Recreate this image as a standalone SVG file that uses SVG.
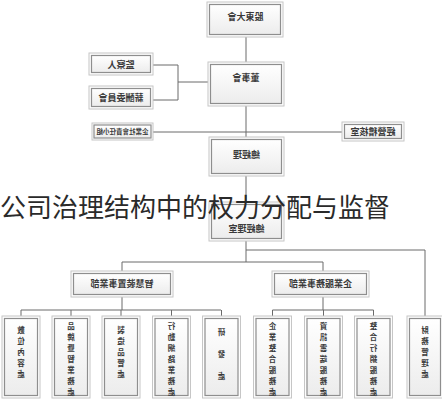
<svg xmlns="http://www.w3.org/2000/svg" width="442" height="400" viewBox="0 0 442 400">
<defs>
<linearGradient id="g" x1="0" y1="0" x2="0" y2="1">
<stop offset="0" stop-color="#ffffff"/>
<stop offset="1" stop-color="#ececec"/>
</linearGradient>
<style>
.bo{fill:#fdfdfd;stroke:#c6c6c6;stroke-width:1}
.bi{fill:url(#g);stroke:#8e8e8e;stroke-width:1.2}
.lbl{font-family:"Noto Sans CJK TC","Noto Sans CJK SC",sans-serif;font-size:9px;font-weight:bold;fill:#3a3a3a;text-anchor:middle}
.sm{font-size:6.5px}
.vt{font-size:7.5px}
.conn{stroke:#6a6a6a;stroke-width:1;fill:none}
.ov{font-family:"Noto Sans CJK SC",sans-serif;font-size:26px;fill:#2a2a2a}
</style>
</defs>
<rect width="442" height="400" fill="#ffffff"/>
<g id="connectors">
<path class="conn" d="M246 36V63M246 105V138M246 175V203M246 240V262"/>
<path class="conn" d="M152 65H178V100H152M178 82H209"/>
<path class="conn" d="M152 132H343"/>
<path class="conn" d="M122 262H323M122 262V272M323 262V272"/>
<path class="conn" d="M246 250H425V316"/>
<path class="conn" d="M122 296V310M21 310H221M21 310V316M71 310V316M121 310V316M171.5 310V316M221.5 310V316"/>
<path class="conn" d="M323 296V310M272.5 310H373.5M272.5 310V316M323.5 310V316M373.5 310V316"/>
</g>
<g id="n-gudong"><rect class="bo" x="207" y="2" width="76" height="35"/><rect class="bi" x="209.5" y="4.5" width="71" height="30"/><text class="lbl" transform="translate(245.5,20) scale(-1,1)">股東大會</text></g>
<g id="n-jiancha"><rect class="bo" x="89" y="53" width="64" height="22"/><rect class="bi" x="91.5" y="55.5" width="59" height="17"/><text class="lbl" transform="translate(121,67.5) scale(-1,1)">監察人</text></g>
<g id="n-xinchou"><rect class="bo" x="89" y="86" width="64" height="23"/><rect class="bi" x="91.5" y="88.5" width="59" height="18"/><text class="lbl" transform="translate(121,100.5) scale(-1,1)">薪酬委員會</text></g>
<g id="n-dongshi"><rect class="bo" x="208" y="62" width="76" height="44"/><rect class="bi" x="210.5" y="64.5" width="71" height="39"/><text class="lbl" transform="translate(246,80.5) scale(-1,1)">董事會</text></g>
<g id="n-csr"><rect class="bo" x="92" y="123" width="61" height="17"/><rect class="bi" x="94" y="125" width="57" height="13"/><text class="lbl sm" transform="translate(122.5,134) scale(-1,1)">企業社會責任小組</text></g>
<g id="n-jihe"><rect class="bo" x="342" y="122" width="62" height="19"/><rect class="bi" x="344.5" y="124.5" width="57" height="14"/><text class="lbl" transform="translate(373,134.5) scale(-1,1)">經營稽核室</text></g>
<g id="n-zongjingli"><rect class="bo" x="209" y="137" width="75" height="39"/><rect class="bi" x="211.5" y="139.5" width="70" height="34"/><text class="lbl" transform="translate(246.5,158) scale(-1,1)">總經理</text></g>
<g id="n-zongjinglishi"><rect class="bo" x="209" y="202" width="75" height="39"/><rect class="bi" x="211.5" y="204.5" width="70" height="34"/><text class="lbl" transform="translate(246.5,232) scale(-1,1)">總經理室</text></g>
<g id="n-zhihui"><rect class="bo" x="71" y="271" width="102" height="26"/><rect class="bi" x="73.5" y="273.5" width="97" height="21"/><text class="lbl" transform="translate(122,287) scale(-1,1)">智慧裝置事業部</text></g>
<g id="n-qiye"><rect class="bo" x="272" y="271" width="97" height="26"/><rect class="bi" x="274.5" y="273.5" width="92" height="21"/><text class="lbl" transform="translate(320.5,287) scale(-1,1)">企業服務事業部</text></g>
<g id="n-b1"><rect class="bo" x="2" y="316" width="38" height="82"/><rect class="bi" x="4.5" y="318.5" width="33" height="77"/><text class="lbl vt" transform="translate(21,0) scale(-1,1)"><tspan x="0" y="333">數</tspan><tspan x="0" y="344">位</tspan><tspan x="0" y="355">內</tspan><tspan x="0" y="366">容</tspan><tspan x="0" y="377">處</tspan></text></g>
<g id="n-b2"><rect class="bo" x="52" y="316" width="38" height="82"/><rect class="bi" x="54.5" y="318.5" width="33" height="77"/><text class="lbl vt" transform="translate(71,0) scale(-1,1)"><tspan x="0" y="329">品</tspan><tspan x="0" y="340">牌</tspan><tspan x="0" y="351">暨</tspan><tspan x="0" y="362">智</tspan><tspan x="0" y="373">業</tspan><tspan x="0" y="384">務</tspan><tspan x="0" y="395">處</tspan></text></g>
<g id="n-b3"><rect class="bo" x="102" y="316" width="38" height="82"/><rect class="bi" x="104.5" y="318.5" width="33" height="77"/><text class="lbl vt" transform="translate(121,0) scale(-1,1)"><tspan x="0" y="333">製</tspan><tspan x="0" y="344">造</tspan><tspan x="0" y="355">品</tspan><tspan x="0" y="366">管</tspan><tspan x="0" y="377">處</tspan></text></g>
<g id="n-b4"><rect class="bo" x="152.5" y="316" width="38" height="82"/><rect class="bi" x="155" y="318.5" width="33" height="77"/><text class="lbl vt" transform="translate(171.5,0) scale(-1,1)"><tspan x="0" y="329">行</tspan><tspan x="0" y="340">動</tspan><tspan x="0" y="351">網</tspan><tspan x="0" y="362">路</tspan><tspan x="0" y="373">業</tspan><tspan x="0" y="384">務</tspan><tspan x="0" y="395">處</tspan></text></g>
<g id="n-b5"><rect class="bo" x="202.5" y="316" width="38" height="82"/><rect class="bi" x="205" y="318.5" width="33" height="77"/><text class="lbl vt" transform="translate(221.5,0) scale(-1,1)"><tspan x="0" y="335">研</tspan><tspan x="0" y="357">發</tspan><tspan x="0" y="379">處</tspan></text></g>
<g id="n-b6"><rect class="bo" x="253.5" y="316" width="38" height="82"/><rect class="bi" x="256" y="318.5" width="33" height="77"/><text class="lbl vt" transform="translate(272.5,0) scale(-1,1)"><tspan x="0" y="329">企</tspan><tspan x="0" y="340">業</tspan><tspan x="0" y="351">整</tspan><tspan x="0" y="362">合</tspan><tspan x="0" y="373">服</tspan><tspan x="0" y="384">務</tspan><tspan x="0" y="395">處</tspan></text></g>
<g id="n-b7"><rect class="bo" x="304.5" y="316" width="38" height="82"/><rect class="bi" x="307" y="318.5" width="33" height="77"/><text class="lbl vt" transform="translate(323.5,0) scale(-1,1)"><tspan x="0" y="329">資</tspan><tspan x="0" y="340">訊</tspan><tspan x="0" y="351">雲</tspan><tspan x="0" y="362">端</tspan><tspan x="0" y="373">服</tspan><tspan x="0" y="384">務</tspan><tspan x="0" y="395">處</tspan></text></g>
<g id="n-b8"><rect class="bo" x="354.5" y="316" width="38" height="82"/><rect class="bi" x="357" y="318.5" width="33" height="77"/><text class="lbl vt" transform="translate(373.5,0) scale(-1,1)"><tspan x="0" y="329">整</tspan><tspan x="0" y="340">合</tspan><tspan x="0" y="351">行</tspan><tspan x="0" y="362">銷</tspan><tspan x="0" y="373">服</tspan><tspan x="0" y="384">務</tspan><tspan x="0" y="395">處</tspan></text></g>
<g id="n-b9"><rect class="bo" x="407" y="316" width="36" height="82"/><rect class="bi" x="409.5" y="318.5" width="31" height="77"/><text class="lbl vt" transform="translate(425,0) scale(-1,1)"><tspan x="0" y="333">財</tspan><tspan x="0" y="344">務</tspan><tspan x="0" y="355">管</tspan><tspan x="0" y="366">理</tspan><tspan x="0" y="377">處</tspan></text></g>
<text class="ov" x="0" y="217">公司治理结构中的权力分配与监督</text>
</svg>
